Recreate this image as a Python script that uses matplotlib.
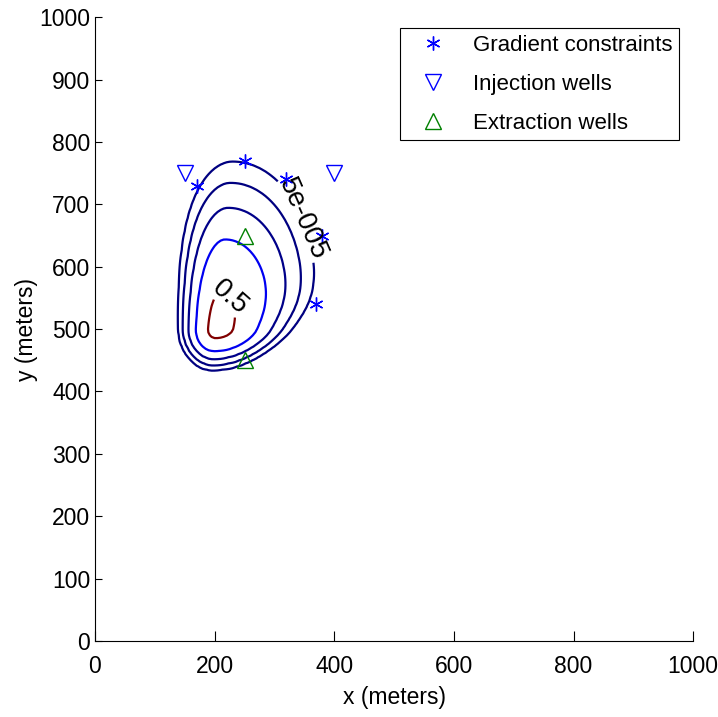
import numpy as np
import matplotlib
matplotlib.use('Agg')
import matplotlib.pyplot as plt

plt.rcParams['font.family'] = ['Liberation Sans', 'DejaVu Sans']

# contour levels; only the outer and inner ones carry labels
levels = [5e-5, 5e-4, 5e-3, 5e-2, 0.5]
outer_level = [5e-5]
inner_level = [0.5]
mid_levels = [5e-4, 5e-3, 5e-2]

# plume parameters
x0, y0 = 203.0, 500.0
sx_left, sx_right = 14.5, 28.8
sy_down, sy_up = 15.0, 61.0
tilt = 0.1
spread_left = 0.0018      # widening of the plume downstream, west side
spread_right = 0.32       # saturating widening, east side
spread_len = 60.0
c0 = 0.8

# well / constraint locations
grad_x = [170, 250, 320, 380, 370]
grad_y = [730, 770, 740, 650, 540]
inj_x = [150, 400]
inj_y = [750, 750]
ext_x = [250, 250]
ext_y = [650, 450]

xg = np.arange(0, 1001, 5.0)
yg = np.arange(0, 1001, 5.0)
X, Y = np.meshgrid(xg, yg)
v = Y - y0
u = X - x0 - tilt * v
grow_l = np.exp(spread_left * v)
grow_r = 1 + spread_right * np.tanh(v / spread_len)
sx = np.where(u > 0, sx_right * grow_r, sx_left * grow_l)
sy = np.where(v > 0, sy_up, sy_down)
C = c0 * np.exp(-0.5 * ((u / sx)**2 + (v / sy)**2))

fig = plt.figure(figsize=(7.18, 7.17), dpi=100)
ax = fig.add_axes([0.1323, 0.106, 0.8332, 0.870])

kw = dict(cmap='jet', vmin=0, vmax=0.5, linewidths=1.6)
ax.contour(X, Y, C, levels=mid_levels, **kw)
cs_out = ax.contour(X, Y, C, levels=outer_level, **kw)
cs_in = ax.contour(X, Y, C, levels=inner_level, **kw)
ax.clabel(cs_out, fmt={5e-5: '5e-005'}, fontsize=20, colors='k', inline=True,
          inline_spacing=2, manual=[(328, 668)])
ax.clabel(cs_in, fmt={0.5: '0.5'}, fontsize=20, colors='k', inline=True,
          inline_spacing=2, manual=[(224, 550)])

ax.plot(grad_x, grad_y, marker=(6, 2, 0), linestyle='none', color='b',
        markersize=10, markeredgewidth=1.0, label='Gradient constraints')
ax.plot(inj_x, inj_y, 'v', color='b', markersize=11, markerfacecolor='none',
        markeredgewidth=1.0, label='Injection wells')
ax.plot(ext_x, ext_y, '^', color='g', markersize=11, markerfacecolor='none',
        markeredgewidth=1.0, label='Extraction wells')

ax.set_xlim(0, 1000)
ax.set_ylim(0, 1000)
ax.set_xticks(range(0, 1001, 200))
ax.set_yticks(range(0, 1001, 100))
ax.tick_params(direction='in', labelsize=16.5)
ax.tick_params(axis='x', length=7, pad=10)
ax.tick_params(axis='y', length=5)
ax.spines['top'].set_visible(False)
ax.spines['right'].set_visible(False)
ax.set_xlabel('x (meters)', fontsize=16.5, labelpad=6)
ax.set_ylabel('y (meters)', fontsize=16.5, labelpad=1)

leg = ax.legend(loc='upper right', bbox_to_anchor=(0.977, 0.982), fontsize=16,
                fancybox=False, edgecolor='k', framealpha=1, borderaxespad=0,
                handlelength=2.4, handletextpad=0.6, labelspacing=0.8,
                borderpad=0.3)
leg.get_frame().set_linewidth(0.8)

plt.savefig('out.png')
